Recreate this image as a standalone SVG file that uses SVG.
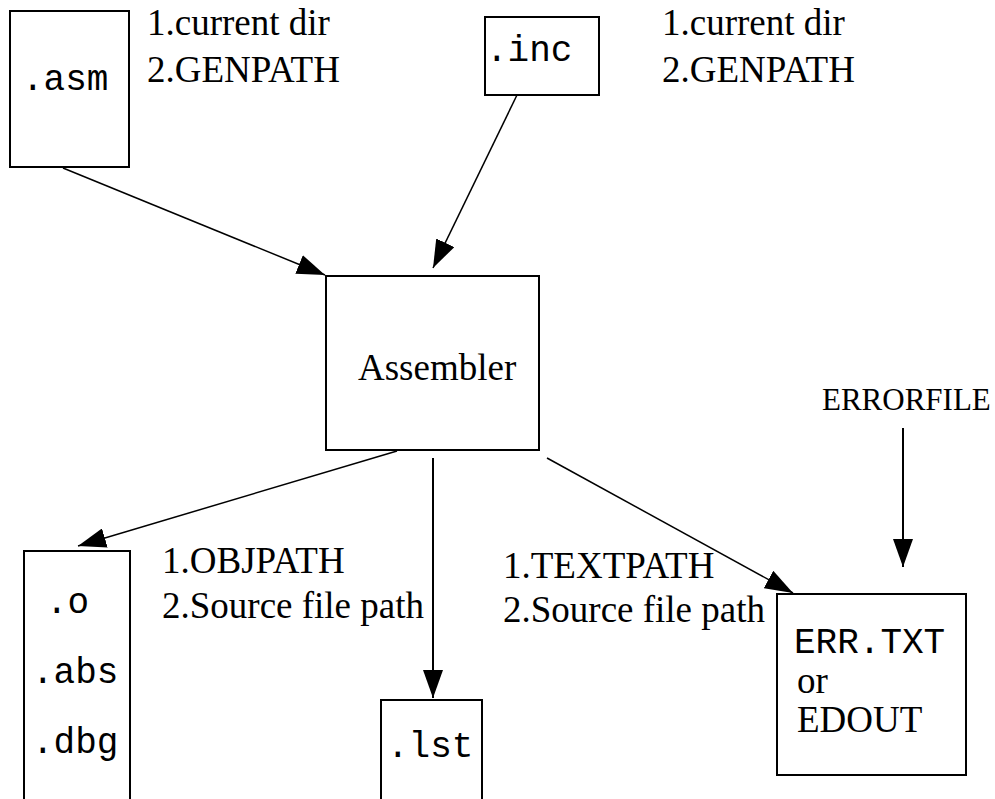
<svg xmlns="http://www.w3.org/2000/svg" width="995" height="799" viewBox="0 0 995 799">
<style>
.box{fill:#fff;stroke:#000;stroke-width:2}
.mono{font-family:"Liberation Mono","Courier New",monospace;font-size:36px;fill:#000}
.serif{font-family:"Liberation Serif","Times New Roman",serif;font-size:37px;fill:#000}
.conn line{stroke:#000;stroke-width:1.5;fill:none}
.conn line.v{stroke-width:2}
</style>
<defs>
<marker id="ah" viewBox="0 0 28 20" refX="28" refY="10" markerWidth="28" markerHeight="20" markerUnits="userSpaceOnUse" orient="auto">
<path d="M0,0 L28,10 L0,20 Z" fill="#000"/>
</marker>
</defs>
<rect width="995" height="799" fill="#fff"/>
<g id="asm">
<rect class="box" x="10" y="11" width="119" height="156"/>
<text class="mono" x="22" y="90">.asm</text>
</g>
<g id="asm-label">
<text class="serif" x="147" y="35">1.current dir</text>
<text class="serif" x="147" y="82">2.GENPATH</text>
</g>
<g id="inc">
<rect class="box" x="485" y="17" width="114" height="78"/>
<text class="mono" x="486" y="61">.inc</text>
</g>
<g id="inc-label">
<text class="serif" x="662" y="35">1.current dir</text>
<text class="serif" x="662" y="82">2.GENPATH</text>
</g>
<g id="assembler">
<rect class="box" x="326" y="276" width="213" height="174"/>
<text class="serif" x="358" y="380">Assembler</text>
</g>
<g id="errorfile">
<text class="serif" x="822" y="410" style="font-size:31px">ERRORFILE</text>
</g>
<g id="obj">
<rect class="box" x="24" y="551" width="106" height="260"/>
<text class="mono" x="46" y="613">.o</text>
<text class="mono" x="32" y="683">.abs</text>
<text class="mono" x="32" y="753">.dbg</text>
</g>
<g id="obj-label">
<text class="serif" x="162" y="573">1.OBJPATH</text>
<text class="serif" x="162" y="618">2.Source file path</text>
</g>
<g id="lst">
<rect class="box" x="381" y="700" width="101" height="110"/>
<text class="mono" x="387" y="757">.lst</text>
</g>
<g id="text-label">
<text class="serif" x="503" y="578">1.TEXTPATH</text>
<text class="serif" x="503" y="622">2.Source file path</text>
</g>
<g id="err">
<rect class="box" x="777" y="594" width="189" height="181"/>
<text class="mono" x="794" y="653">ERR.TXT</text>
<text class="serif" x="797" y="693">or</text>
<text class="serif" x="797" y="732">EDOUT</text>
</g>
<g class="conn" id="connectors">
<line x1="63" y1="168" x2="325" y2="275" marker-end="url(#ah)"/>
<line x1="517" y1="95" x2="433" y2="268" marker-end="url(#ah)"/>
<line x1="397" y1="451" x2="78" y2="546" marker-end="url(#ah)"/>
<line class="v" x1="433" y1="458" x2="433" y2="698" marker-end="url(#ah)"/>
<line x1="547" y1="458" x2="793" y2="593" marker-end="url(#ah)"/>
<line class="v" x1="903" y1="428" x2="903" y2="567" marker-end="url(#ah)"/>
</g>
</svg>
